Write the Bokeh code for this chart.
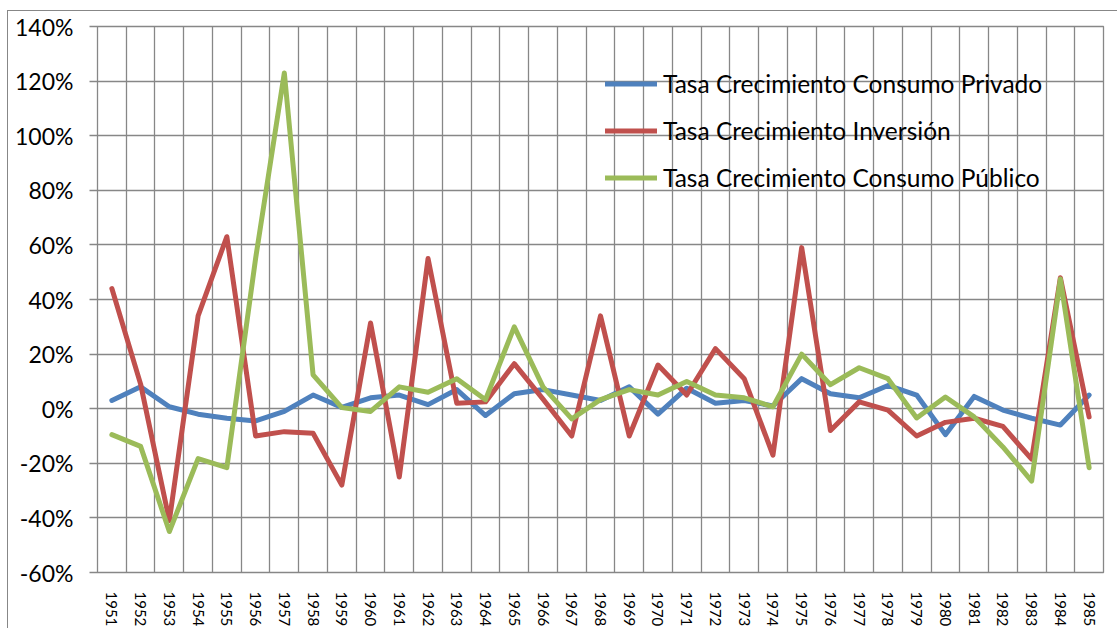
from bokeh.plotting import figure
from bokeh.models import (ColumnDataSource, FixedTicker, PrintfTickFormatter,
                          Range1d, Legend, LegendItem)
from bokeh.embed import file_html
from bokeh.resources import INLINE

years = list(range(1951, 1986))
privado = [3, 8, 0.7, -2, -3.5, -4.5, -1, 5, 0.5, 4,
           5, 1.5, 7, -2.5, 5.5, 7, 5, 3, 8, -2,
           7.5, 2, 3, 1, 11, 5.5, 4, 8.5, 5, -9.5,
           4.5, -0.5, -3.5, -6, 5]
inversion = [44, 9, -41, 34, 63, -10, -8.4, -9, -28, 31.4,
             -25, 55, 2, 2.5, 16.5, 3.5, -10, 34, -10, 16,
             5, 22, 11, -17, 59, -8, 2.5, -0.5, -10, -5,
             -3.5, -6.5, -18.5, 48, -3]
publico = [-9.5, -13.8, -45, -18.3, -21.6, 55, 123, 12.4, 0.4, -1,
           8, 6, 11, 3.3, 30, 8, -3.7, 3.3, 7, 5,
           10, 5, 4, 0.7, 20, 8.8, 15, 11, -3.4, 4.3,
           -3, -14, -26.5, 47.5, -21.6]
series_names = ["Tasa Crecimiento Consumo Privado",
                "Tasa Crecimiento Inversión",
                "Tasa Crecimiento Consumo Público"]
y_ticks = [-60, -40, -20, 0, 20, 40, 60, 80, 100, 120, 140]

src = ColumnDataSource(dict(year=years, privado=privado,
                            inversion=inversion, publico=publico))

GRID = "#878787"
FONT = "Lato"

p = figure(width=1110, height=618, output_backend="svg", toolbar_location=None,
           title=None, x_range=Range1d(1950.5, 1985.5), y_range=Range1d(-60, 140),
           min_border_left=89, min_border_right=15, min_border_top=15,
           min_border_bottom=56, margin=(11, 0, 0, 8))
p.styles = {"box-shadow": "-1px -1px 0 0 #878787"}
p.background_fill_color = "white"
p.border_fill_color = "white"
p.outline_line_color = GRID
p.outline_line_width = 1.3

# y axis
p.yaxis.ticker = FixedTicker(ticks=y_ticks)
p.yaxis.formatter = PrintfTickFormatter(format="%d%%")
p.yaxis.axis_line_color = None
p.yaxis.major_tick_out = 8
p.yaxis.major_tick_in = 0
p.yaxis.major_tick_line_color = GRID
p.yaxis.major_tick_line_width = 1.3
p.yaxis.minor_tick_line_color = None
p.yaxis.major_label_standoff = 16
p.yaxis.major_label_text_font = FONT
p.yaxis.major_label_text_font_size = "23px"
p.yaxis.major_label_text_color = "black"

# x axis
p.xaxis.ticker = FixedTicker(ticks=years)
p.xaxis.major_label_orientation = "vertical"
p.xaxis.axis_line_color = None
p.xaxis.major_tick_line_color = None
p.xaxis.minor_tick_line_color = None
p.xaxis.major_label_standoff = 13
p.xaxis.major_label_text_font = FONT
p.xaxis.major_label_text_font_size = "15px"
p.xaxis.major_label_text_color = "black"

# grids
p.xgrid.ticker = FixedTicker(ticks=[y - 0.5 for y in years] + [years[-1] + 0.5])
p.ygrid.ticker = FixedTicker(ticks=y_ticks)
for g in (p.xgrid, p.ygrid):
    g.grid_line_color = GRID
    g.grid_line_width = 1.3

colors = ["#4F81BD", "#C0504D", "#9BBB59"]
renderers = []
for col, c in zip(["privado", "inversion", "publico"], colors):
    r = p.line("year", col, source=src, line_color=c, line_width=5,
               line_cap="round", line_join="round")
    renderers.append(r)

legend = Legend(items=[LegendItem(label=n, renderers=[r])
                       for n, r in zip(series_names, renderers)],
                location=(508, 371), orientation="vertical",
                glyph_width=52, glyph_height=47, label_height=47,
                spacing=0, padding=0, margin=0, label_standoff=6,
                label_text_font=FONT, label_text_font_size="24.5px",
                label_text_color="black",
                background_fill_alpha=0, border_line_alpha=0)
p.add_layout(legend)

open("out.html", "w").write(file_html(p, INLINE))
